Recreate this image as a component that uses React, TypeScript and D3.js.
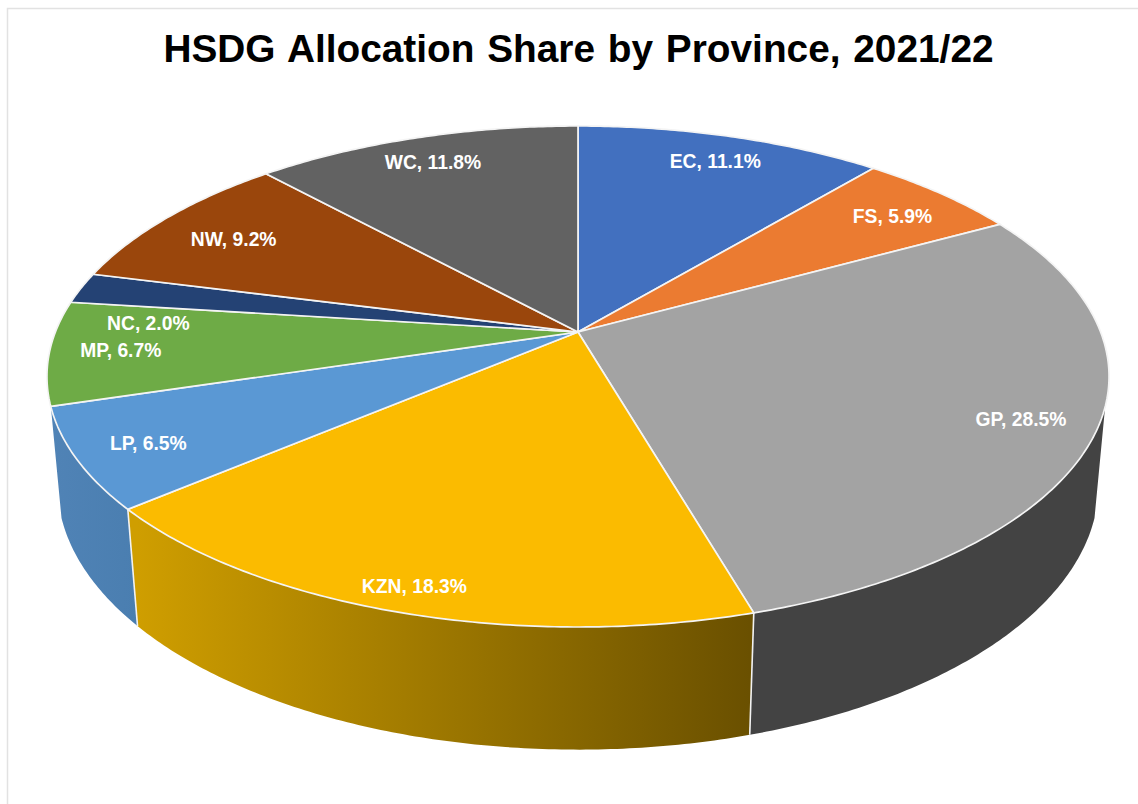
import React from "react";
import * as d3 from "d3";

const title = "HSDG Allocation Share by Province, 2021/22";
const provinces = ["EC", "FS", "GP", "KZN", "LP", "MP", "NC", "NW", "WC"];
const shares = [11.1, 5.9, 28.5, 18.3, 6.5, 6.7, 2.0, 9.2, 11.8];
const topColors = ["#4270bf", "#eb7b31", "#a3a3a3", "#fbbb00", "#5a98d4", "#6eab46", "#244274", "#9a460c", "#626262"];

// Perspective model of the disc
const W = 1138, H = 804;
const apex = { x: 578, y: 332 };
const A = 522.6, B = 242.6, K = 0.1776, M = 0.0195, DEPTH = 109;
const LABEL_R = 0.86;
const WALL_FROM = (107 * Math.PI) / 180, WALL_TO = (253 * Math.PI) / 180;
const labelNudge: [number, number][] = [[3, 0.5], [-2, 4.5], [2, 2], [-12, 19.5], [-4, 3], [-3.5, 0], [-0.5, 29], [13, 7], [-2.5, 0]];

function project(theta: number, r = 1, floor = false): [number, number] {
  const X = Math.sin(theta) * r;
  const Y = -Math.cos(theta) * r;
  const w = 1 - K * Y + (floor ? M : 0);
  return [apex.x + (A * X) / w, apex.y + (B * Y + (floor ? DEPTH : 0)) / w];
}

const fmt = (p: [number, number]) => `${p[0].toFixed(2)},${p[1].toFixed(2)}`;

function arcPoints(a: number, b: number) {
  const n = Math.max(2, Math.ceil((b - a) / 0.01));
  return d3.range(n + 1).map((i) => project(a + ((b - a) * i) / n));
}

// Side of one slice: same-winding quads, so the swept silhouette has no holes or seams
function wallPath(a: number, b: number) {
  const n = Math.max(2, Math.ceil((b - a) / 0.01));
  return d3.range(n).map((i) => {
    const t0 = a + ((b - a) * i) / n;
    const t1 = a + ((b - a) * (i + 1)) / n;
    const quad = [project(t0), project(t1), project(t1, 1, true), project(t0, 1, true)];
    if (d3.polygonArea(quad) < 0) quad.reverse();
    return `M${quad.map(fmt).join("L")}Z`;
  }).join("");
}

const wallFill = (i: number) => (i === 3 ? "url(#kzn)" : i === 4 ? "url(#lp)" : "#434343");

export default function App() {
  const arcs = d3.pie<number>().sort(null).startAngle(0).endAngle(2 * Math.PI)(shares);
  const front = arcs.slice(2, 5);
  return (
    <svg width={W} height={H} viewBox={`0 0 ${W} ${H}`} style={{ position: "absolute", left: 0, top: 0, background: "#fff" }}>
      <defs>
        <linearGradient id="kzn" gradientUnits="userSpaceOnUse" x1={137} y1={0} x2={750} y2={0}>
          <stop offset="0" stopColor="#cf9e00" />
          <stop offset="1" stopColor="#6a5000" />
        </linearGradient>
        <linearGradient id="lp" gradientUnits="userSpaceOnUse" x1={50} y1={0} x2={138} y2={0}>
          <stop offset="0" stopColor="#5083b6" />
          <stop offset="1" stopColor="#4a7eb0" />
        </linearGradient>
      </defs>
      <path d="M7.5,804V8.5H1138" fill="none" stroke="#e2e2e2" strokeWidth={1.5} />
      <text x={578.5} y={62} textAnchor="middle" fontFamily="Liberation Sans, Arial, sans-serif" fontWeight="bold" fontSize={38.8} wordSpacing={2} fill="#000">{title}</text>

      {front.map((d) => (
        <path
          key={d.index}
          d={wallPath(Math.max(d.startAngle, WALL_FROM), Math.min(d.endAngle, WALL_TO))}
          fill={wallFill(d.index)}
          fillRule="nonzero"
        />
      ))}
      {front.slice(1).map((d) => {
        const p = project(d.startAngle), q = project(d.startAngle, 1, true);
        return <line key={d.index} x1={p[0]} y1={p[1]} x2={q[0]} y2={q[1]} stroke="#f2f2f2" strokeWidth={1.6} />;
      })}

      {arcs.map((d, i) => (
        <path
          key={i}
          d={`M${apex.x},${apex.y}L${arcPoints(d.startAngle, d.endAngle).map(fmt).join("L")}Z`}
          fill={topColors[i]}
          stroke="#f4f4f4"
          strokeWidth={1.7}
          strokeLinejoin="round"
        />
      ))}

      {arcs.map((d, i) => {
        const [x, y] = project((d.startAngle + d.endAngle) / 2, LABEL_R);
        return (
          <text key={i} x={x + labelNudge[i][0]} y={y + labelNudge[i][1] + 7} textAnchor="middle" fontFamily="Liberation Sans, Arial, sans-serif" fontWeight="bold" fontSize={19.3} fill="#fff">
            {`${provinces[i]}, ${shares[i].toFixed(1)}%`}
          </text>
        );
      })}
    </svg>
  );
}
